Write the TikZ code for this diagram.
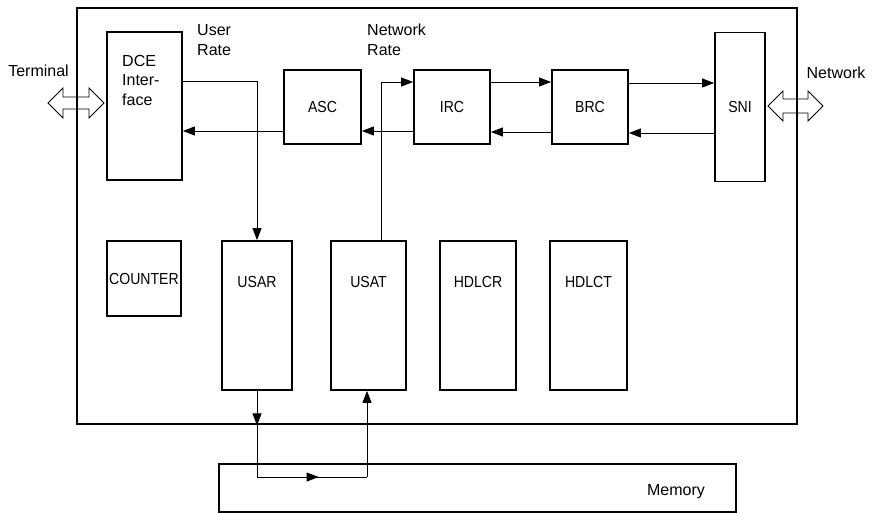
\documentclass[tikz,border=0pt]{standalone}
\usepackage{fontspec}
\setmainfont{Liberation Sans}
\newfontfamily\capsfont[FakeStretch=0.88]{Liberation Sans}
\usetikzlibrary{arrows.meta,decorations.markings}
\begin{document}
\begin{tikzpicture}[x=1pt,y=-1pt,
  blk/.style={draw,line width=1.8pt,inner sep=0pt,font=\capsfont\fontsize{16}{19}\selectfont},
  conn/.style={line width=0.9pt,-{Triangle[length=12pt,width=9pt]}},
  plain/.style={line width=0.9pt},
  midarrow/.style={plain,postaction={decorate},decoration={markings,mark=at position 0.56 with {\arrow{Triangle[length=12pt,width=9pt]}}}},
  lbl/.style={font=\fontsize{16}{19.5}\selectfont,inner sep=0pt},
  blbl/.style={font=\capsfont\fontsize{16}{19}\selectfont,inner sep=0pt},
  dblarrow/.style={draw,line width=0.8pt,fill=white,line join=miter}]
\useasboundingbox (0,0) rectangle (872,513);

% double arrows (drawn under the outer border)
\draw[dblarrow] (48,103) -- (63,88) -- (63,97) -- (89,97) -- (89,88) -- (104,103)
  -- (89,118) -- (89,109) -- (63,109) -- (63,118) -- cycle;
\draw[dblarrow] (768,106) -- (783,91) -- (783,99) -- (808,99) -- (808,91) -- (823,106)
  -- (808,121) -- (808,113) -- (783,113) -- (783,121) -- cycle;

% outer board
\node[draw,line width=2.8pt,inner sep=0pt,minimum width=720pt,minimum height=416pt] (outer) at (437,216) {};

% blocks
\node[blk,minimum width=75pt,minimum height=148pt] (dce) at (144.5,106) {};
\node[lbl,align=left,anchor=north west] (dcetext) at (122,55) {DCE\\Inter-\\face};
\node[blk,minimum width=77pt,minimum height=74pt] (asc) at (322.5,107) {ASC};
\node[blk,minimum width=76pt,minimum height=74pt] (irc) at (452,107) {IRC};
\node[blk,minimum width=76pt,minimum height=74pt] (brc) at (590,107) {BRC};
\node[blk,minimum width=50pt,minimum height=149pt] (sni) at (740,107) {SNI};

\node[blk,minimum width=74pt,minimum height=75pt] (counter) at (144,278.5) {COUNTER};
\node[blk,minimum width=70pt,minimum height=149pt] (usar) at (257,315.5) {};
\node[blk,minimum width=75pt,minimum height=149pt] (usat) at (368.5,315.5) {};
\node[blk,minimum width=76pt,minimum height=149pt] (hdlcr) at (478,315.5) {};
\node[blk,minimum width=77pt,minimum height=149pt] (hdlct) at (588.5,315.5) {};
\node[blbl,yshift=-42pt] (usarl) at (usar.north) {USAR};
\node[blbl,yshift=-42pt] (usatl) at (usat.north) {USAT};
\node[blbl,yshift=-42pt] (hdlcrl) at (hdlcr.north) {HDLCR};
\node[blbl,yshift=-42pt] (hdlctl) at (hdlct.north) {HDLCT};

\node[draw,line width=1.6pt,inner sep=0pt,minimum width=517pt,minimum height=48pt] (mem) at (477.5,488) {};
\node[lbl] (meml) at (676,492) {Memory};

% outside labels
\node[lbl] (term) at (38.5,71) {Terminal};
\node[lbl] (netw) at (836,73) {Network};
\node[lbl,align=left,anchor=west] (urate) at (197,40) {User\\Rate};
\node[lbl,align=left,anchor=west] (nrate) at (367,40) {Network\\Rate};

% connectors
\draw[conn] ([yshift=25pt]dce.east) -| (usar.north);
\draw[conn] ([yshift=-24pt]asc.west) -- ([yshift=-25pt]dce.east);
\draw[conn] ([yshift=-24pt]irc.west) -- ([yshift=-24pt]asc.east);
\draw[conn] ([yshift=25pt]irc.east) -- ([yshift=25pt]brc.west);
\draw[conn] ([yshift=-25pt]brc.west) -- ([yshift=-25pt]irc.east);
\draw[conn] ([yshift=24pt]brc.east) -- ([yshift=24pt]sni.west);
\draw[conn] ([yshift=-26pt]sni.west) -- ([yshift=-26pt]brc.east);
\draw[conn] ([xshift=12.5pt]usat.north) |- ([yshift=25pt]irc.west);

\coordinate (m1) at (257,477);
\coordinate (m2) at (367,477);
\draw[conn] (usar.south) -- (usar.south |- outer.south);
\draw[plain] (usar.south |- outer.south) -- (m1);
\draw[midarrow] (m1) -- (m2);
\draw[conn] (m2) -- (m2 |- usat.south);
\end{tikzpicture}
\end{document}
